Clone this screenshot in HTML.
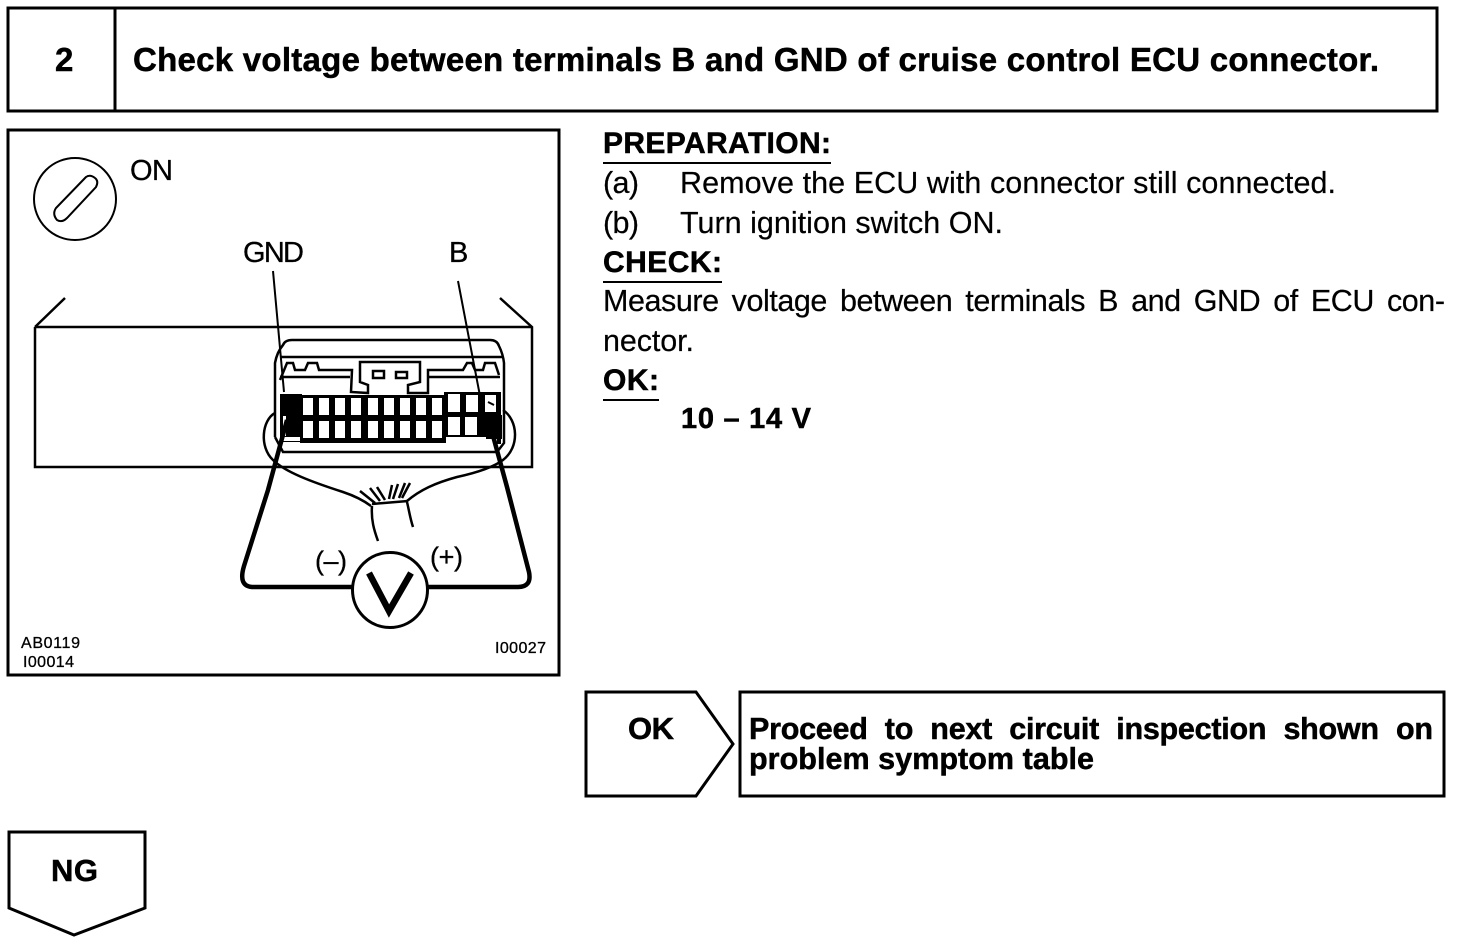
<!DOCTYPE html>
<html><head><meta charset="utf-8"><style>
html,body{margin:0;padding:0;background:#fff;width:1472px;height:944px;overflow:hidden}
svg{display:block}
text{font-family:"Liberation Sans",Arial,sans-serif;fill:#000}
.b{font-weight:bold;stroke:#000;stroke-width:.5px}
.r{font-size:30.500px;stroke:#000;stroke-width:.2px}
</style></head><body>
<svg width="1472" height="944" viewBox="0 0 1472 944" xmlns="http://www.w3.org/2000/svg">
<g fill="none" stroke="#000" stroke-width="3">
<rect x="8" y="8" width="1429" height="103"/>
<line x1="115" y1="8" x2="115" y2="111"/>
<rect x="8" y="130" width="551" height="545"/>
<path d="M586 692H696L733 744L696 796H586Z"/>
<rect x="740" y="692" width="704" height="104"/>
<path d="M9 832H145V908L74 935L9 908Z"/>
</g>
<text x="55" y="71" class="b" font-size="33">2</text>
<text x="133" y="71" class="b" font-size="33" textLength="1246">Check voltage between terminals B and GND of cruise control ECU connector.</text>
<text x="603" y="153" class="b" font-size="30" textLength="228">PREPARATION:</text>
<line x1="603" y1="163" x2="831" y2="163" stroke="#000" stroke-width="2"/>
<text x="603" y="193" class="r" textLength="36">(a)</text>
<text x="680" y="193" class="r" textLength="656">Remove the ECU with connector still connected.</text>
<text x="603" y="233" class="r" textLength="36">(b)</text>
<text x="680" y="233" class="r" textLength="323">Turn ignition switch ON.</text>
<text x="603" y="272" class="b" font-size="30" textLength="119">CHECK:</text>
<line x1="603" y1="282" x2="722" y2="282" stroke="#000" stroke-width="2"/>
<text x="603" y="311" class="r" textLength="842" word-spacing="5">Measure voltage between terminals B and GND of ECU con-</text>
<text x="603" y="351" class="r" textLength="91">nector.</text>
<text x="603" y="390" class="b" font-size="30" textLength="56">OK:</text>
<line x1="603" y1="400" x2="659" y2="400" stroke="#000" stroke-width="2"/>
<text x="681" y="428" class="b" font-size="29" textLength="130">10 – 14 V</text>
<text x="628" y="739" class="b" font-size="31" textLength="46">OK</text>
<text x="749" y="739" class="b" font-size="30.500" textLength="684" word-spacing="9">Proceed to next circuit inspection shown on</text>
<text x="749" y="769" class="b" font-size="30.500" textLength="345">problem symptom table</text>
<text x="51" y="881" class="b" font-size="31" textLength="47">NG</text>

<circle cx="75" cy="199" r="41" fill="none" stroke="#000" stroke-width="2"/>
<path d="M86 177L56 208Q52 214 57 220Q62 223 67 218L96 187Q99 181 95 178Q90 174 86 177Z" fill="none" stroke="#000" stroke-width="2"/>
<text x="130" y="180" font-size="29" textLength="43" stroke="#000" stroke-width=".3">ON</text>
<text x="243" y="262" font-size="29" textLength="61" stroke="#000" stroke-width=".3">GND</text>
<text x="449" y="262" font-size="29" textLength="18" stroke="#000" stroke-width=".3">B</text>
<text x="21" y="648" font-size="16" textLength="59" stroke="#000" stroke-width=".3">AB0119</text>
<text x="23" y="667" font-size="16" textLength="51" stroke="#000" stroke-width=".3">I00014</text>
<text x="495" y="653" font-size="16" textLength="51" stroke="#000" stroke-width=".3">I00027</text>

<g fill="none" stroke="#000" stroke-width="2.500">
<path d="M35 327L65 298M35 327V467H532V327L500 298M35 327H532"/>
<path d="M273 271L284 392M458 281L480 396" stroke-width="2"/>
<path d="M275 437V363Q277 352 283 345Q285 340 292 340H490Q497 340 499 346Q503 354 504 363V443L497 452H283L275 437"/>
<path d="M280 357H503"/>
<path d="M280 380L287 363H293L295 370H305L308 363H317L319 370H352L351 392L368 393V385L360 382V362H420V382L408 385V393H428V370H463L467 363H472L475 370H483L485 363H495L499 375"/>
<path d="M280 377H350M428 377H500"/>
<rect x="373" y="371" width="11" height="7"/>
<rect x="396" y="372" width="11" height="6"/>
<path d="M275 413C262 420 259 447 273 460C285 472 312 482 343 492C355 496 363 500 371 506"/>
<path d="M503 410C518 420 520 447 503 460C495 466 480 472 457 477C435 483 420 490 407 501"/>
<path d="M372 506C371 520 374 530 378 541M407 502C409 510 410 518 413 527"/>
<path d="M360 491L375 503M370 488L380 501M377 487L385 500M392 485L389 499M398 484L393 499M405 483L399 498M410 483L402 498M372 504L408 501"/>
</g>
<g fill="#000">
<rect x="280" y="394" width="22" height="48"/>
<rect x="300" y="395" width="146" height="48"/>
<rect x="444" y="392" width="55" height="23"/>
<rect x="444" y="414" width="55" height="23"/>
<rect x="483" y="415" width="19" height="24"/>
<rect x="497" y="392" width="4" height="52"/>
</g>
<g fill="#fff">
<rect x="303" y="398" width="10" height="17"/><rect x="319" y="398" width="10" height="17"/><rect x="335" y="398" width="10" height="17"/><rect x="351" y="398" width="10" height="17"/><rect x="368" y="398" width="10" height="17"/><rect x="384" y="398" width="10" height="17"/><rect x="400" y="398" width="10" height="17"/><rect x="416" y="398" width="10" height="17"/><rect x="432" y="398" width="10" height="17"/><rect x="448" y="394" width="12" height="18"/><rect x="466" y="395" width="12" height="17"/><rect x="485" y="395" width="11" height="17"/>
<rect x="303" y="421" width="10" height="17"/><rect x="319" y="421" width="10" height="17"/><rect x="335" y="421" width="10" height="17"/><rect x="351" y="421" width="10" height="17"/><rect x="368" y="421" width="10" height="17"/><rect x="384" y="421" width="10" height="17"/><rect x="400" y="421" width="10" height="17"/><rect x="416" y="421" width="10" height="17"/><rect x="432" y="421" width="10" height="17"/><rect x="448" y="417" width="12" height="18"/><rect x="465" y="417" width="12" height="18"/>
<rect x="283" y="437" width="17" height="4"/><rect x="446" y="437" width="40" height="4"/>
<rect x="283" y="416" width="3" height="20"/>
</g>
<path d="M488 402L494 405" stroke="#000" stroke-width="2"/>
<g fill="none" stroke="#000">
<path d="M287 420L268 490L244 566Q238 586 252 587H353M492 432L507 487L529 572Q532 587 518 587H428" stroke-width="4.500"/>
<circle cx="390" cy="590" r="37.500" fill="#fff" stroke-width="3"/>
<path d="M369 573L389 611L411 573" stroke-width="6.500"/>
</g>
<text x="315" y="570" font-size="27" textLength="32" stroke="#000" stroke-width=".3">(–)</text>
<text x="430" y="566" font-size="27" textLength="33" stroke="#000" stroke-width=".3">(+)</text>
</svg>
</body></html>
